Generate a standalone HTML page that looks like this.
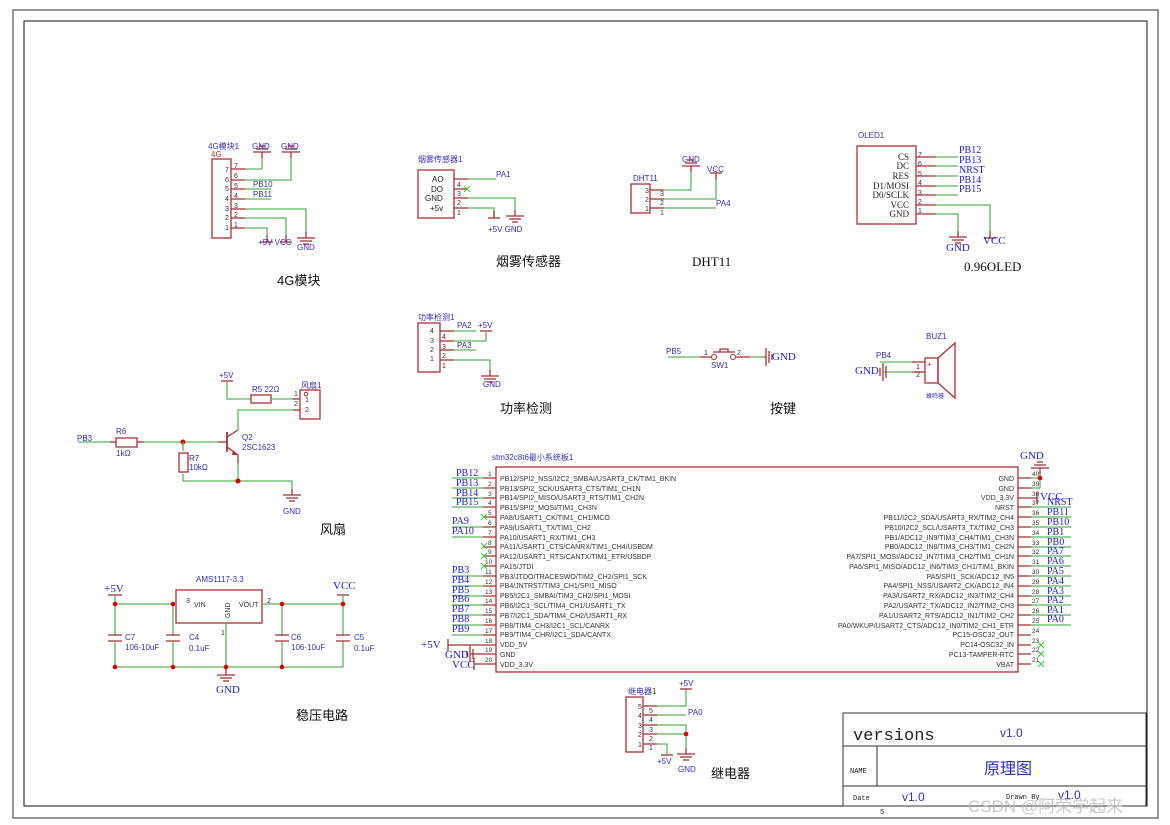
<!DOCTYPE html>
<html><head><meta charset="utf-8"><style>
body{margin:0;background:#fff}
svg{display:block}
.w{stroke:#5cb85c;stroke-width:1.3;fill:none}
.p{stroke:#a83232;stroke-width:1.3;fill:none}
.b{stroke:#b03030;stroke-width:1.3;fill:#fff}
.t{font-family:"Liberation Sans","Noto Sans CJK SC",sans-serif;fill:#3030b8;font-size:8px}
.s{font-family:"Liberation Serif",serif;fill:#1a1ae0;font-size:11px}
.k{font-family:"Liberation Sans",sans-serif;fill:#333;font-size:7px}
.n{font-family:"Liberation Sans",sans-serif;fill:#333;font-size:7px}
.h{font-family:"Liberation Sans","Noto Sans CJK SC",sans-serif;fill:#111;font-size:13px}
.d{fill:#d00}
</style></head><body>
<svg width="1170" height="825" viewBox="0 0 1170 825" xmlns="http://www.w3.org/2000/svg">
<defs>
<g id="gnd"><line x1="0" y1="0" x2="0" y2="6" class="p"/><line x1="-9" y1="6" x2="9" y2="6" class="p"/><line x1="-6" y1="9" x2="6" y2="9" class="p"/><line x1="-3" y1="12" x2="3" y2="12" class="p"/></g>
<g id="bar"><line x1="-6" y1="0" x2="6" y2="0" class="p"/><line x1="0" y1="0" x2="0" y2="7" class="p"/></g>
</defs>
<rect x="13" y="10" width="1145" height="808" fill="none" stroke="#777" stroke-width="1.5"/>
<rect x="24" y="21" width="1123" height="785" fill="none" stroke="#111" stroke-width="1"/>

<!-- 4G module -->
<text class="t" x="208" y="149">4G模块1</text><text x="211" y="157" class="t" style="fill:#b03030">4G</text>
<rect class="b" x="212" y="159" width="19" height="79"/>
<g class="n"><text x="225" y="172">7</text><text x="225" y="182">6</text><text x="225" y="191">5</text><text x="225" y="201">4</text><text x="225" y="211">3</text><text x="225" y="220">2</text><text x="225" y="230">1</text>
<text x="234" y="168">7</text><text x="234" y="178">6</text><text x="234" y="188">5</text><text x="234" y="198">4</text><text x="234" y="208">3</text><text x="234" y="217">2</text><text x="234" y="227">1</text></g>
<g class="p"><line x1="231" y1="169" x2="245" y2="169"/><line x1="231" y1="180" x2="245" y2="180"/><line x1="231" y1="189" x2="245" y2="189"/><line x1="231" y1="199" x2="245" y2="199"/><line x1="231" y1="209" x2="245" y2="209"/><line x1="231" y1="218" x2="245" y2="218"/><line x1="231" y1="228" x2="245" y2="228"/></g>
<polyline class="w" points="245,169 262,169 262,158"/><polyline class="w" points="245,180 291,180 291,158"/>
<line class="w" x1="245" y1="189" x2="271" y2="189"/><line class="w" x1="245" y1="199" x2="271" y2="199"/>
<polyline class="w" points="245,209 306,209 306,232"/><polyline class="w" points="245,218 286,218 286,235"/><polyline class="w" points="245,228 267,228 267,235"/>
<g transform="translate(262,158) rotate(180)"><use href="#gnd"/></g><g transform="translate(291,158) rotate(180)"><use href="#gnd"/></g>
<text class="t" x="252" y="149">GND</text><text class="t" x="281" y="149">GND</text>
<text class="t" x="253" y="187">PB10</text><text class="t" x="253" y="197">PB11</text>
<g transform="translate(306,232)"><use href="#gnd"/></g><text class="t" x="297" y="250">GND</text>
<g transform="translate(286,242) rotate(180)"><use href="#bar"/></g><g transform="translate(267,242) rotate(180)"><use href="#bar"/></g>
<text class="t" x="258" y="245">+5V VCC</text>
<text class="h" x="277" y="285">4G模块</text>

<!-- smoke -->
<text class="t" x="418" y="162">烟雾传感器1</text>
<rect class="b" x="418" y="170" width="36" height="48"/>
<g class="t" style="fill:#222"><text x="432" y="182">AO</text><text x="431" y="192">DO</text><text x="425" y="201">GND</text><text x="430" y="211">+5v</text></g>
<g class="n"><text x="457" y="187">4</text><text x="457" y="196">3</text><text x="457" y="205">2</text><text x="457" y="215">1</text></g>
<g class="p"><line x1="454" y1="179" x2="468" y2="179"/><line x1="454" y1="189" x2="468" y2="189"/><line x1="454" y1="198" x2="468" y2="198"/><line x1="454" y1="208" x2="468" y2="208"/></g>
<line class="w" x1="468" y1="179" x2="496" y2="179"/><text class="t" x="496" y="177">PA1</text>
<path d="M464,186 l6,6 M470,186 l-6,6" stroke="#3c3" stroke-width="1"/>
<polyline class="w" points="468,198 515,198 515,210"/><polyline class="w" points="468,208 494,208 494,218"/>
<g transform="translate(515,210)"><use href="#gnd"/></g><g transform="translate(494,218)"><use href="#bar" transform="rotate(180)"/></g>
<text class="t" x="488" y="232">+5V GND</text>
<text class="h" x="496" y="266">烟雾传感器</text>

<!-- DHT11 -->
<text class="t" x="633" y="181">DHT11</text>
<rect class="b" x="631" y="184" width="19" height="29"/>
<g class="n"><text x="645" y="193">3</text><text x="645" y="202">2</text><text x="645" y="211">1</text><text x="660" y="196">3</text><text x="660" y="205">2</text><text x="660" y="215">1</text></g>
<g class="p"><line x1="650" y1="190" x2="664" y2="190"/><line x1="650" y1="199" x2="664" y2="199"/><line x1="650" y1="208" x2="664" y2="208"/></g>
<polyline class="w" points="664,190 691,190 691,172"/><polyline class="w" points="664,199 716,199 716,180"/><line class="w" x1="664" y1="208" x2="716" y2="208"/>
<g transform="translate(691,172) rotate(180)"><use href="#gnd"/></g><text class="t" x="682" y="162">GND</text>
<g transform="translate(716,173)"><use href="#bar"/></g><text class="t" x="707" y="172">VCC</text>
<text class="t" x="716" y="206">PA4</text>
<text class="h" x="692" y="266" style="font-family:'Liberation Serif',serif">DHT11</text>

<!-- OLED -->
<text class="t" x="858" y="138">OLED1</text>
<rect class="b" x="857" y="146" width="59" height="78"/>
<g style="font-family:'Liberation Serif',serif;font-size:9px;fill:#222" text-anchor="end"><text x="909" y="160">CS</text><text x="909" y="169">DC</text><text x="909" y="179">RES</text><text x="909" y="189">D1/MOSI</text><text x="909" y="198">D0/SCLK</text><text x="909" y="208">VCC</text><text x="909" y="217">GND</text></g>
<g class="n"><text x="918" y="157">7</text><text x="918" y="166">6</text><text x="918" y="176">5</text><text x="918" y="185">4</text><text x="918" y="195">3</text><text x="918" y="204">2</text><text x="918" y="213">1</text></g>
<g class="p"><line x1="916" y1="157" x2="936" y2="157"/><line x1="916" y1="166" x2="936" y2="166"/><line x1="916" y1="176" x2="936" y2="176"/><line x1="916" y1="186" x2="936" y2="186"/><line x1="916" y1="195" x2="936" y2="195"/><line x1="916" y1="205" x2="936" y2="205"/><line x1="916" y1="214" x2="936" y2="214"/></g>
<g class="w"><line x1="936" y1="157" x2="958" y2="157"/><line x1="936" y1="166" x2="958" y2="166"/><line x1="936" y1="176" x2="958" y2="176"/><line x1="936" y1="186" x2="958" y2="186"/><line x1="936" y1="195" x2="958" y2="195"/><polyline points="936,205 990,205 990,232"/><polyline points="936,214 958,214 958,231"/></g>
<g class="s" style="font-size:10px"><text x="959" y="153">PB12</text><text x="959" y="163">PB13</text><text x="959" y="173">NRST</text><text x="959" y="183">PB14</text><text x="959" y="192">PB15</text></g>
<g transform="translate(958,231)"><use href="#gnd"/></g><text class="s" x="946" y="251">GND</text>
<g transform="translate(990,238) rotate(180)"><use href="#bar"/></g><text class="s" x="983" y="244">VCC</text>
<text class="h" x="964" y="271" style="font-family:'Liberation Serif',serif">0.96OLED</text>

<!-- power detect -->
<text class="t" x="418" y="320">功率检测1</text>
<rect class="b" x="418" y="323" width="22" height="49"/>
<g class="n"><text x="430" y="333">4</text><text x="430" y="343">3</text><text x="430" y="352">2</text><text x="430" y="361">1</text><text x="442" y="339">4</text><text x="442" y="349">3</text><text x="442" y="358">2</text><text x="442" y="368">1</text></g>
<g class="p"><line x1="440" y1="331" x2="454" y2="331"/><line x1="440" y1="341" x2="454" y2="341"/><line x1="440" y1="350" x2="454" y2="350"/><line x1="440" y1="360" x2="454" y2="360"/></g>
<line class="w" x1="454" y1="331" x2="476" y2="331"/><polyline class="w" points="454,341 486,341 486,332"/><line class="w" x1="454" y1="350" x2="476" y2="350"/><polyline class="w" points="454,360 490,360 490,372"/>
<text class="t" x="457" y="328">PA2</text><text class="t" x="478" y="328">+5V</text><line class="p" x1="480" y1="331" x2="492" y2="331"/>
<text class="t" x="457" y="348">PA3</text>
<g transform="translate(490,370)"><use href="#gnd"/></g><text class="t" x="483" y="387">GND</text>
<text class="h" x="500" y="413">功率检测</text>

<!-- button -->
<text class="t" x="666" y="354">PB5</text><line class="w" x1="668" y1="357" x2="700" y2="357"/><line class="p" x1="700" y1="357" x2="711" y2="357"/>
<circle cx="714" cy="357" r="2.5" fill="none" stroke="#b03030"/><circle cx="733" cy="357" r="2.5" fill="none" stroke="#b03030"/>
<path d="M713,352 H735 M720,352 v-3 h8 v3" class="p"/>
<text class="n" x="704" y="355">1</text><text class="n" x="737" y="355">2</text>
<line class="p" x1="736" y1="357" x2="750" y2="357"/><line class="w" x1="750" y1="357" x2="764" y2="357"/><line class="p" x1="764" y1="357" x2="766" y2="357"/>
<path d="M766,348 v18 M769,351 v12 M772,354 v6" stroke="#a83232" stroke-width="1.3"/>
<text class="s" x="772" y="360">GND</text>
<text class="t" x="711" y="368">SW1</text>
<text class="h" x="770" y="413">按键</text>

<!-- buzzer -->
<text class="t" x="926" y="339">BUZ1</text>
<rect class="b" x="925" y="358" width="13" height="25"/><text class="t" x="927" y="367" style="fill:#b03030">+</text>
<polygon points="938,358 955,343 955,398 938,383" fill="none" stroke="#b03030" stroke-width="1.3"/>
<line class="w" x1="880" y1="362" x2="912" y2="362"/><line class="p" x1="912" y1="362" x2="925" y2="362"/>
<line class="w" x1="884" y1="372" x2="912" y2="372"/><line class="p" x1="912" y1="372" x2="925" y2="372"/>
<text class="n" x="916" y="369">1</text><text class="n" x="916" y="377">2</text>
<path d="M883,363 v18 M886,366 v12 M880,368 v8" stroke="#a83232" stroke-width="1.3"/>
<text class="t" x="876" y="358">PB4</text><text class="s" x="855" y="374">GND</text>
<text class="t" x="926" y="398" style="font-size:6px">蜂鸣器</text>

<!-- fan -->
<text class="t" x="219" y="378">+5V</text><line class="p" x1="221" y1="381" x2="233" y2="381"/>
<polyline class="w" points="227,381 227,399 251,399"/><rect class="b" x="251" y="395" width="20" height="8"/><line class="w" x1="271" y1="399" x2="295" y2="399"/><line class="p" x1="293" y1="399" x2="300" y2="399"/>
<text class="t" x="252" y="392">R5  22Ω</text>
<text class="t" x="301" y="388">风扇1</text><rect class="b" x="300" y="390" width="20" height="29"/>
<circle cx="306" cy="394" r="1.8" fill="none" stroke="#b03030"/>
<g class="n"><text x="305" y="402">1</text><text x="305" y="412">2</text><text x="294" y="396">1</text><text x="294" y="406">2</text></g>
<polyline class="w" points="238,430 238,410 293,410"/><line class="p" x1="293" y1="410" x2="300" y2="410"/>
<text class="t" x="77" y="441">PB3</text>
<line class="w" x1="78" y1="442" x2="110" y2="442"/><line class="p" x1="110" y1="442" x2="116" y2="442"/><rect class="b" x="116" y="438" width="21" height="9"/><line class="p" x1="137" y1="442" x2="144" y2="442"/>
<line class="w" x1="144" y1="442" x2="218" y2="442"/><line class="p" x1="218" y1="442" x2="227" y2="442"/>
<text class="t" x="116" y="434">R6</text><text class="t" x="116" y="456">1kΩ</text>
<circle class="d" cx="183" cy="442" r="2.5"/>
<line class="w" x1="183" y1="442" x2="183" y2="451"/><rect class="b" x="179" y="453" width="9" height="19"/>
<polyline class="w" points="183,474 183,481 292,481 292,490"/>
<text class="t" x="189" y="461">R7</text><text class="t" x="189" y="470">10kΩ</text>
<line x1="227" y1="432" x2="227" y2="452" stroke="#a83232" stroke-width="1.8"/>
<path d="M227,437 L238,430 M227,447 L238,455 L238,463" class="p"/><path d="M233,450 l5,5 l-6,0z" fill="#a83232"/>
<line class="w" x1="238" y1="463" x2="238" y2="481"/><circle class="d" cx="238" cy="481" r="2.5"/>
<text class="t" x="242" y="440">Q2</text><text class="t" x="242" y="450">2SC1623</text>
<g transform="translate(292,489)"><use href="#gnd"/></g><text class="t" x="283" y="514">GND</text>
<text class="h" x="320" y="534">风扇</text>

<!-- regulator -->
<text class="t" x="196" y="582">AMS1117-3.3</text>
<rect class="b" x="176" y="590" width="86" height="33"/>
<text class="k" x="194" y="607">VIN</text><text class="k" x="239" y="607">VOUT</text>
<text class="k" transform="translate(230,618) rotate(-90)">GND</text>
<text class="n" x="186" y="603">3</text><text class="n" x="267" y="603">2</text><text class="n" x="221" y="635">1</text>
<text class="s" x="104" y="592">+5V</text><line class="p" x1="108" y1="595" x2="122" y2="595"/>
<text class="s" x="333" y="589">VCC</text><line class="p" x1="337" y1="595" x2="349" y2="595"/>
<polyline class="w" points="115,595 115,604 176,604"/><polyline class="w" points="262,604 343,604 343,595"/>
<line class="w" x1="115" y1="667" x2="343" y2="667"/>
<g class="w"><line x1="115" y1="604" x2="115" y2="667"/><line x1="173" y1="604" x2="173" y2="667"/><line x1="282" y1="604" x2="282" y2="667"/><line x1="343" y1="604" x2="343" y2="667"/><line x1="226" y1="623" x2="226" y2="667"/></g>
<g fill="#fff"><rect x="108" y="636" width="14" height="5"/><rect x="166" y="636" width="14" height="5"/><rect x="275" y="636" width="14" height="5"/><rect x="336" y="636" width="14" height="5"/></g>
<g class="p"><path d="M108,635 h14 M108,641 h14 M166,635 h14 M166,641 h14 M275,635 h14 M275,641 h14 M336,635 h14 M336,641 h14"/></g>
<g class="d"><circle cx="115" cy="604" r="2.3"/><circle cx="173" cy="604" r="2.3"/><circle cx="282" cy="604" r="2.3"/><circle cx="343" cy="604" r="2.3"/><circle cx="115" cy="667" r="2.3"/><circle cx="173" cy="667" r="2.3"/><circle cx="226" cy="667" r="2.3"/><circle cx="282" cy="667" r="2.3"/></g>
<g transform="translate(226,669)"><use href="#gnd"/></g><text class="s" x="216" y="693">GND</text>
<text class="t" x="125" y="640">C7</text><text class="t" x="125" y="650">106-10uF</text>
<text class="t" x="189" y="640">C4</text><text class="t" x="189" y="651">0.1uF</text>
<text class="t" x="291" y="640">C6</text><text class="t" x="291" y="650">106-10uF</text>
<text class="t" x="354" y="640">C5</text><text class="t" x="354" y="651">0.1uF</text>
<text class="h" x="296" y="720">稳压电路</text>

<!-- relay -->
<text class="t" x="628" y="694">继电器1</text>
<rect class="b" x="626" y="697" width="17" height="55"/>
<g class="n"><text x="638" y="709">5</text><text x="638" y="718">4</text><text x="638" y="728">3</text><text x="638" y="737">2</text><text x="638" y="747">1</text><text x="649" y="713">5</text><text x="649" y="722">4</text><text x="649" y="732">3</text><text x="649" y="741">2</text><text x="649" y="750">1</text></g>
<g class="p"><line x1="643" y1="706" x2="657" y2="706"/><line x1="643" y1="715" x2="657" y2="715"/><line x1="643" y1="725" x2="657" y2="725"/><line x1="643" y1="734" x2="657" y2="734"/><line x1="643" y1="744" x2="657" y2="744"/></g>
<polyline class="w" points="657,706 686,706 686,689"/><line class="w" x1="657" y1="715" x2="686" y2="715"/><polyline class="w" points="657,725 686,725 686,748"/><line class="w" x1="657" y1="734" x2="686" y2="734"/><polyline class="w" points="657,744 667,744 667,755"/>
<circle class="d" cx="686" cy="734" r="2.3"/>
<text class="t" x="679" y="686">+5V</text><line class="p" x1="680" y1="689" x2="692" y2="689"/>
<text class="t" x="688" y="715">PA0</text>
<g transform="translate(686,748)"><use href="#gnd"/></g><text class="t" x="678" y="772">GND</text>
<line class="p" x1="661" y1="755" x2="673" y2="755"/><text class="t" x="657" y="764">+5V</text>
<text class="h" x="711" y="778">继电器</text>

<!-- MCU -->
<text class="t" x="492" y="460">stm32c8t6最小系统板1</text>
<rect class="b" x="496" y="467" width="522" height="205"/>
<g class="k">
<text x="500" y="481">PB12/SPI2_NSS/I2C2_SMBAI/USART3_CK/TIM1_BKIN</text>
<text x="500" y="491">PB13/SPI2_SCK/USART3_CTS/TIM1_CH1N</text>
<text x="500" y="500">PB14/SPI2_MISO/USART3_RTS/TIM1_CH2N</text>
<text x="500" y="510">PB15/SPI2_MOSI/TIM1_CH3N</text>
<text x="500" y="520">PA8/USART1_CK/TIM1_CH1/MCO</text>
<text x="500" y="530">PA9/USART1_TX/TIM1_CH2</text>
<text x="500" y="540">PA10/USART1_RX/TIM1_CH3</text>
<text x="500" y="549">PA11/USART1_CTS/CANRX/TIM1_CH4/USBDM</text>
<text x="500" y="559">PA12/USART1_RTS/CANTX/TIM1_ETR/USBDP</text>
<text x="500" y="569">PA15/JTDI</text>
<text x="500" y="579">PB3/JTDO/TRACESWO/TIM2_CH2/SPI1_SCK</text>
<text x="500" y="588">PB4/JNTRST/TIM3_CH1/SPI1_MISO</text>
<text x="500" y="598">PB5/I2C1_SMBAI/TIM3_CH2/SPI1_MOSI</text>
<text x="500" y="608">PB6/I2C1_SCL/TIM4_CH1/USART1_TX</text>
<text x="500" y="618">PB7/I2C1_SDA/TIM4_CH2/USART1_RX</text>
<text x="500" y="628">PB8/TIM4_CH3/I2C1_SCL/CANRX</text>
<text x="500" y="637">PB9/TIM4_CHR/I2C1_SDA/CANTX</text>
<text x="500" y="647">VDD_5V</text>
<text x="500" y="657">GND</text>
<text x="500" y="667">VDD_3.3V</text>
</g>
<g class="k" text-anchor="end">
<text x="1014" y="481">GND</text><text x="1014" y="491">GND</text><text x="1014" y="500">VDD_3.3V</text><text x="1014" y="510">NRST</text>
<text x="1014" y="520">PB11/I2C2_SDA/USART3_RX/TIM2_CH4</text>
<text x="1014" y="530">PB10/I2C2_SCL/USART3_TX/TIM2_CH3</text>
<text x="1014" y="540">PB1/ADC12_IN9/TIM3_CH4/TIM1_CH3N</text>
<text x="1014" y="549">PB0/ADC12_IN8/TIM3_CH3/TIM1_CH2N</text>
<text x="1014" y="559">PA7/SPI1_MOSI/ADC12_IN7/TIM3_CH2/TIM1_CH1N</text>
<text x="1014" y="569">PA6/SPI1_MISO/ADC12_IN6/TIM3_CH1/TIM1_BKIN</text>
<text x="1014" y="579">PA5/SPI1_SCK/ADC12_IN5</text>
<text x="1014" y="588">PA4/SPI1_NSS/USART2_CK/ADC12_IN4</text>
<text x="1014" y="598">PA3/USART2_RX/ADC12_IN3/TIM2_CH4</text>
<text x="1014" y="608">PA2/USART2_TX/ADC12_IN2/TIM2_CH3</text>
<text x="1014" y="618">PA1/USART2_RTS/ADC12_IN1/TIM2_CH2</text>
<text x="1014" y="628">PA0/WKUP/USART2_CTS/ADC12_IN0/TIM2_CH1_ETR</text>
<text x="1014" y="637">PC15-OSC32_OUT</text><text x="1014" y="647">PC14-OSC32_IN</text><text x="1014" y="657">PC13-TAMPER-RTC</text><text x="1014" y="667">VBAT</text>
</g>
<g class="p">
<path d="M483,478h13M483,488h13M483,498h13M483,507h13M483,517h13M483,527h13M483,537h13M483,547h13M483,556h13M483,566h13M483,576h13M483,586h13M483,596h13M483,605h13M483,615h13M483,625h13M483,635h13M483,645h13M483,654h13M483,664h13"/>
<path d="M1018,478h13M1018,488h13M1018,498h13M1018,507h13M1018,517h13M1018,527h13M1018,537h13M1018,547h13M1018,556h13M1018,566h13M1018,576h13M1018,586h13M1018,596h13M1018,605h13M1018,615h13M1018,625h13M1018,635h13M1018,645h13M1018,654h13M1018,664h13"/>
</g>
<g style="font-family:'Liberation Sans',sans-serif;font-size:6.5px;fill:#333">
<text x="488" y="476">1</text><text x="488" y="486">2</text><text x="488" y="496">3</text><text x="488" y="505">4</text><text x="488" y="515">5</text><text x="488" y="525">6</text><text x="488" y="535">7</text><text x="488" y="545">8</text><text x="488" y="554">9</text><text x="485" y="564">10</text><text x="485" y="574">11</text><text x="485" y="584">12</text><text x="485" y="594">13</text><text x="485" y="603">14</text><text x="485" y="613">15</text><text x="485" y="623">16</text><text x="485" y="633">17</text><text x="485" y="643">18</text><text x="485" y="652">19</text><text x="485" y="662">20</text>
<text x="1032" y="476">40</text><text x="1032" y="486">39</text><text x="1032" y="496">38</text><text x="1032" y="505">37</text><text x="1032" y="515">36</text><text x="1032" y="525">35</text><text x="1032" y="535">34</text><text x="1032" y="545">33</text><text x="1032" y="554">32</text><text x="1032" y="564">31</text><text x="1032" y="574">30</text><text x="1032" y="584">29</text><text x="1032" y="594">28</text><text x="1032" y="603">27</text><text x="1032" y="613">26</text><text x="1032" y="623">25</text><text x="1032" y="633">24</text><text x="1032" y="643">23</text><text x="1032" y="652">22</text><text x="1032" y="662">21</text>
</g>
<g class="w">
<path d="M452,478h31M452,488h31M452,498h31M452,507h31M452,527h31M452,537h31M452,576h31M452,586h31M452,596h31M452,605h31M452,615h31M452,625h31M452,635h31"/>
<path d="M1031,507h40M1031,517h40M1031,527h40M1031,537h40M1031,547h40M1031,556h40M1031,566h40M1031,576h40M1031,586h40M1031,596h40M1031,605h40M1031,615h40M1031,625h40"/>
<polyline points="1031,478 1040,478 1040,472"/><line x1="1031" y1="488" x2="1040" y2="488"/><line x1="1040" y1="478" x2="1040" y2="488"/>
</g>
<g stroke="#3c3" stroke-width="1"><path d="M481,514l6,6M487,514l-6,6M481,543l6,6M487,543l-6,6M481,553l6,6M487,553l-6,6M481,563l6,6M487,563l-6,6M1038,642l6,6M1044,642l-6,6M1038,651l6,6M1044,651l-6,6M1038,661l6,6M1044,661l-6,6"/></g>
<circle class="d" cx="1040" cy="478" r="2.3"/>
<g transform="translate(1040,474) rotate(180)"><use href="#gnd"/></g><text class="s" x="1020" y="459">GND</text>
<path d="M1031,498 h6 M1037,492 v12" class="p"/><text class="s" x="1025" y="501" dx="0" style="font-size:11px">&#8203;</text><text class="s" x="1040" y="500">VCC</text>
<g class="s" style="font-size:10px">
<text x="456" y="476">PB12</text><text x="456" y="486">PB13</text><text x="456" y="496">PB14</text><text x="456" y="505">PB15</text>
<text x="452" y="524">PA9</text><text x="452" y="534">PA10</text>
<text x="452" y="573">PB3</text><text x="452" y="583">PB4</text><text x="452" y="593">PB5</text><text x="452" y="602">PB6</text><text x="452" y="612">PB7</text><text x="452" y="622">PB8</text><text x="452" y="632">PB9</text>
<text x="1047" y="505">NRST</text><text x="1047" y="515">PB11</text><text x="1047" y="525">PB10</text><text x="1047" y="535">PB1</text><text x="1047" y="545">PB0</text><text x="1047" y="554">PA7</text><text x="1047" y="564">PA6</text><text x="1047" y="574">PA5</text><text x="1047" y="584">PA4</text><text x="1047" y="594">PA3</text><text x="1047" y="603">PA2</text><text x="1047" y="613">PA1</text><text x="1047" y="622">PA0</text>
</g>
<path d="M448,645 h35 M448,639 v12" class="p"/><text class="s" x="421" y="648">+5V</text>
<path d="M470,654 h13 M470,646 v16 M473,649 v10 M467,651 v6" class="p"/><text class="s" x="445" y="658">GND</text>
<path d="M474,664 h9 M474,658 v12" class="p"/><text class="s" x="452" y="668">VCC</text>

<!-- title block -->
<rect x="843" y="713" width="303" height="93" fill="none" stroke="#333" stroke-width="1"/>
<line x1="843" y1="746" x2="1146" y2="746" stroke="#333"/><line x1="843" y1="786" x2="1146" y2="786" stroke="#333"/><line x1="877" y1="746" x2="877" y2="786" stroke="#333"/>
<text x="853" y="740" style="font-family:'Liberation Mono',monospace;font-size:17px;fill:#222">versions</text>
<text class="t" x="1000" y="737" style="font-size:12px">v1.0</text>
<text x="850" y="773" style="font-family:'Liberation Mono',monospace;font-size:7px;fill:#222">NAME</text>
<text class="t" x="984" y="774" style="font-size:16px">原理图</text>
<text x="853" y="800" style="font-family:'Liberation Mono',monospace;font-size:7px;fill:#222">Date</text>
<text class="t" x="902" y="801" style="font-size:12px">v1.0</text>
<text x="1006" y="799" style="font-family:'Liberation Mono',monospace;font-size:7px;fill:#222">Drawn By</text>
<text class="t" x="1058" y="799" style="font-size:12px">v1.0</text>
<text x="880" y="814" style="font-family:'Liberation Mono',monospace;font-size:7px;fill:#222">5</text>
<text x="968" y="812" style="font-family:'Liberation Sans','Noto Sans CJK SC',sans-serif;font-size:17px;fill:#bbb;opacity:0.8">CSDN @阿荣学起来</text>
</svg>
</body></html>
